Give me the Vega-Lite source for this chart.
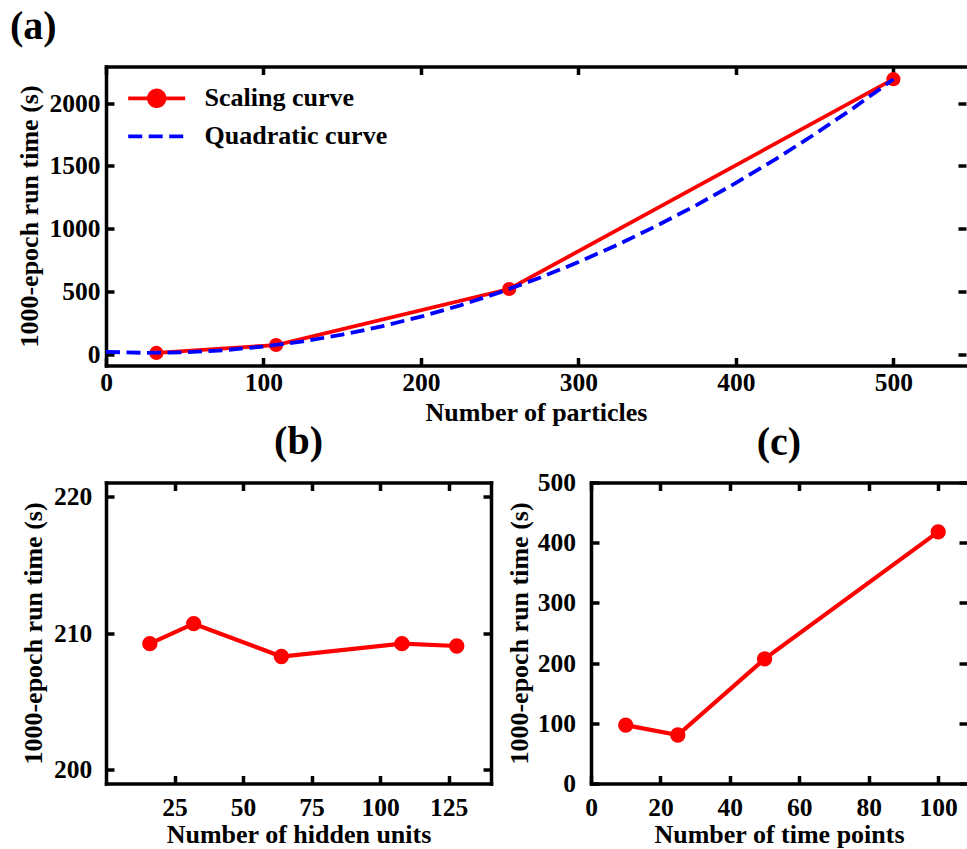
{
  "$schema": "https://vega.github.io/schema/vega-lite/v6.json",
  "background": "white",
  "padding": {"left": 10, "top": 6.5, "right": 0, "bottom": 0},
  "autosize": {"type": "pad"},
  "config": {
    "font": "Liberation Serif",
    "view": {"stroke": null},
    "axis": {
      "domain": true, "domainColor": "black", "domainWidth": 3.5, "domainCap": "square",
      "grid": false, "ticks": true, "tickColor": "black", "tickWidth": 3.5, "tickSize": -8,
      "labelFlush": false, "labelOverlap": false,
      "labelFont": "Liberation Serif", "labelFontSize": 25.5, "labelFontWeight": "bold", "labelColor": "black",
      "titleFont": "Liberation Serif", "titleFontSize": 26, "titleFontWeight": "bold", "titleColor": "black"
    },
    "title": {"font": "Liberation Serif", "fontSize": 40, "fontWeight": "bold", "color": "black"}
  },
  "datasets": {
    "scaling": [
      {"particles": 32, "time": 12, "series": "Scaling curve"},
      {"particles": 108, "time": 75, "series": "Scaling curve"},
      {"particles": 256, "time": 521, "series": "Scaling curve"},
      {"particles": 500, "time": 2191, "series": "Scaling curve"}
    ],
    "quadratic": [
      {"particles": 0, "time": 20, "series": "Quadratic curve"},
      {"particles": 25, "time": 12.4, "series": "Quadratic curve"},
      {"particles": 50, "time": 17, "series": "Quadratic curve"},
      {"particles": 75, "time": 33.8, "series": "Quadratic curve"},
      {"particles": 100, "time": 62.8, "series": "Quadratic curve"},
      {"particles": 125, "time": 104, "series": "Quadratic curve"},
      {"particles": 150, "time": 157.5, "series": "Quadratic curve"},
      {"particles": 175, "time": 223, "series": "Quadratic curve"},
      {"particles": 200, "time": 301, "series": "Quadratic curve"},
      {"particles": 225, "time": 391, "series": "Quadratic curve"},
      {"particles": 250, "time": 494, "series": "Quadratic curve"},
      {"particles": 275, "time": 608, "series": "Quadratic curve"},
      {"particles": 300, "time": 735, "series": "Quadratic curve"},
      {"particles": 325, "time": 874, "series": "Quadratic curve"},
      {"particles": 350, "time": 1026, "series": "Quadratic curve"},
      {"particles": 375, "time": 1189, "series": "Quadratic curve"},
      {"particles": 400, "time": 1365, "series": "Quadratic curve"},
      {"particles": 425, "time": 1553, "series": "Quadratic curve"},
      {"particles": 450, "time": 1753, "series": "Quadratic curve"},
      {"particles": 475, "time": 1965, "series": "Quadratic curve"},
      {"particles": 500, "time": 2190, "series": "Quadratic curve"}
    ],
    "hidden": [
      {"units": 16, "time": 209.22},
      {"units": 32, "time": 210.68},
      {"units": 64, "time": 208.28},
      {"units": 108, "time": 209.22},
      {"units": 128, "time": 209.05}
    ],
    "timepoints": [
      {"points": 10, "time": 97},
      {"points": 25, "time": 80.5},
      {"points": 50, "time": 207},
      {"points": 100, "time": 418}
    ]
  },
  "spacing": -4,
  "vconcat": [
    {
      "width": 860,
      "height": 299,
      "title": {"text": "(a)", "anchor": "start", "frame": "group", "dx": -96, "offset": -14.1, "baseline": "alphabetic"},
      "layer": [
        {
          "data": {"name": "scaling"},
          "mark": {"type": "line", "strokeWidth": 3.8},
          "encoding": {
            "x": {"field": "particles", "type": "quantitative", "scale": {"domain": [0, 546.1], "nice": false, "zero": false}, "axis": null},
            "y": {"field": "time", "type": "quantitative", "scale": {"domain": [-88, 2292], "nice": false, "zero": false}, "axis": null},
            "color": {
              "field": "series", "type": "nominal",
              "scale": {"domain": ["Scaling curve", "Quadratic curve"], "range": ["#ff0000", "#0000ff"]},
              "legend": {
                "title": null, "orient": "none", "legendX": 33.7, "legendY": 14.8,
                "padding": 0, "symbolSize": 900, "labelOffset": 30.8, "rowPadding": 5,
                "labelFont": "Liberation Serif", "labelFontSize": 26, "labelFontWeight": "bold", "labelColor": "black",
                "labelLimit": 400,
                "encode": {
                  "symbols": {
                    "update": {
                      "shape": {"signal": "datum.value === 'Scaling curve' ? 'M-1.9,0L1.9,0M-0.52,0A0.52,0.52 0 1,1 0.52,0A0.52,0.52 0 1,1 -0.52,0Z' : 'M-1.9,0L1.9,0'"},
                      "fill": {"signal": "datum.value === 'Scaling curve' ? '#ff0000' : 'transparent'"},
                      "stroke": {"signal": "datum.value === 'Scaling curve' ? '#ff0000' : '#0000ff'"},
                      "strokeDash": {"signal": "datum.value === 'Scaling curve' ? [1, 0] : [14, 6.5]"},
                      "strokeWidth": {"value": 3.8},
                      "opacity": {"value": 1},
                      "fillOpacity": {"value": 1},
                      "strokeOpacity": {"value": 1}
                    }
                  }
                }
              }
            }
          }
        },
        {
          "data": {"name": "scaling"},
          "mark": {"type": "point", "filled": true, "size": 200, "opacity": 1},
          "encoding": {
            "x": {"field": "particles", "type": "quantitative", "scale": {"domain": [0, 546.1], "nice": false, "zero": false},
                  "axis": {"orient": "top", "values": [0, 100, 200, 300, 400, 500], "labels": false, "title": null}},
            "y": {"field": "time", "type": "quantitative", "scale": {"domain": [-88, 2292], "nice": false, "zero": false},
                  "axis": {"orient": "right", "values": [0, 500, 1000, 1500, 2000], "labels": false, "title": null, "domain": false}},
            "color": {"field": "series", "type": "nominal"}
          }
        },
        {
          "data": {"name": "quadratic"},
          "mark": {"type": "line", "strokeWidth": 3.8, "strokeDash": [14, 6.5]},
          "encoding": {
            "x": {"field": "particles", "type": "quantitative", "scale": {"domain": [0, 546.1], "nice": false, "zero": false},
                  "axis": {"orient": "bottom", "values": [0, 100, 200, 300, 400, 500], "format": "d", "title": "Number of particles", "labelPadding": 12.5, "titlePadding": 3.5}},
            "y": {"field": "time", "type": "quantitative", "scale": {"domain": [-88, 2292], "nice": false, "zero": false},
                  "axis": {"orient": "left", "values": [0, 500, 1000, 1500, 2000], "format": "d", "title": "1000-epoch run time (s)", "labelPadding": 14, "titlePadding": 6.4}},
            "color": {"field": "series", "type": "nominal"}
          }
        }
      ],
      "resolve": {"axis": {"x": "independent", "y": "independent"}}
    },
    {
      "spacing": 13,
      "hconcat": [
        {
          "width": 385,
          "height": 301,
          "title": {"text": "(b)", "anchor": "middle", "frame": "group", "offset": -13.1, "baseline": "alphabetic"},
          "data": {"name": "hidden"},
          "layer": [
            {
              "mark": {"type": "line", "color": "#ff0000", "strokeWidth": 4.2},
              "encoding": {
                "x": {"field": "units", "type": "quantitative", "scale": {"domain": [0, 140.5], "nice": false, "zero": false},
                      "axis": {"orient": "bottom", "values": [25, 50, 75, 100, 125], "format": "d", "title": "Number of hidden units", "labelPadding": 20.3, "titlePadding": 0.5}},
                "y": {"field": "time", "type": "quantitative", "scale": {"domain": [199, 221], "nice": false, "zero": false},
                      "axis": {"orient": "left", "values": [200, 210, 220], "format": "d", "title": "1000-epoch run time (s)", "labelPadding": 22.3, "titlePadding": 7.4}}
              }
            },
            {
              "mark": {"type": "point", "filled": true, "color": "#ff0000", "size": 235, "opacity": 1},
              "encoding": {
                "x": {"field": "units", "type": "quantitative", "scale": {"domain": [0, 140.5], "nice": false, "zero": false},
                      "axis": {"orient": "top", "values": [25, 50, 75, 100, 125], "labels": false, "title": null}},
                "y": {"field": "time", "type": "quantitative", "scale": {"domain": [199, 221], "nice": false, "zero": false},
                      "axis": {"orient": "right", "values": [200, 210, 220], "labels": false, "title": null}}
              }
            }
          ],
          "resolve": {"axis": {"x": "independent", "y": "independent"}}
        },
        {
          "width": 376,
          "height": 301,
          "title": {"text": "(c)", "anchor": "middle", "frame": "group", "offset": -24.1, "baseline": "alphabetic"},
          "data": {"name": "timepoints"},
          "layer": [
            {
              "mark": {"type": "line", "color": "#ff0000", "strokeWidth": 4.2},
              "encoding": {
                "x": {"field": "points", "type": "quantitative", "scale": {"domain": [0, 108.3], "nice": false, "zero": false},
                      "axis": {"orient": "bottom", "values": [0, 20, 40, 60, 80, 100], "format": "d", "title": "Number of time points", "labelPadding": 20.3, "titlePadding": 0.5}},
                "y": {"field": "time", "type": "quantitative", "scale": {"domain": [0, 500], "nice": false, "zero": false},
                      "axis": {"orient": "left", "values": [0, 100, 200, 300, 400, 500], "format": "d", "title": "1000-epoch run time (s)", "labelPadding": 23.5, "titlePadding": 5}}
              }
            },
            {
              "mark": {"type": "point", "filled": true, "color": "#ff0000", "size": 235, "opacity": 1},
              "encoding": {
                "x": {"field": "points", "type": "quantitative", "scale": {"domain": [0, 108.3], "nice": false, "zero": false},
                      "axis": {"orient": "top", "values": [0, 20, 40, 60, 80, 100], "labels": false, "title": null}},
                "y": {"field": "time", "type": "quantitative", "scale": {"domain": [0, 500], "nice": false, "zero": false},
                      "axis": {"orient": "right", "values": [0, 100, 200, 300, 400, 500], "labels": false, "title": null, "domain": false}}
              }
            }
          ],
          "resolve": {"axis": {"x": "independent", "y": "independent"}}
        }
      ]
    }
  ]
}
